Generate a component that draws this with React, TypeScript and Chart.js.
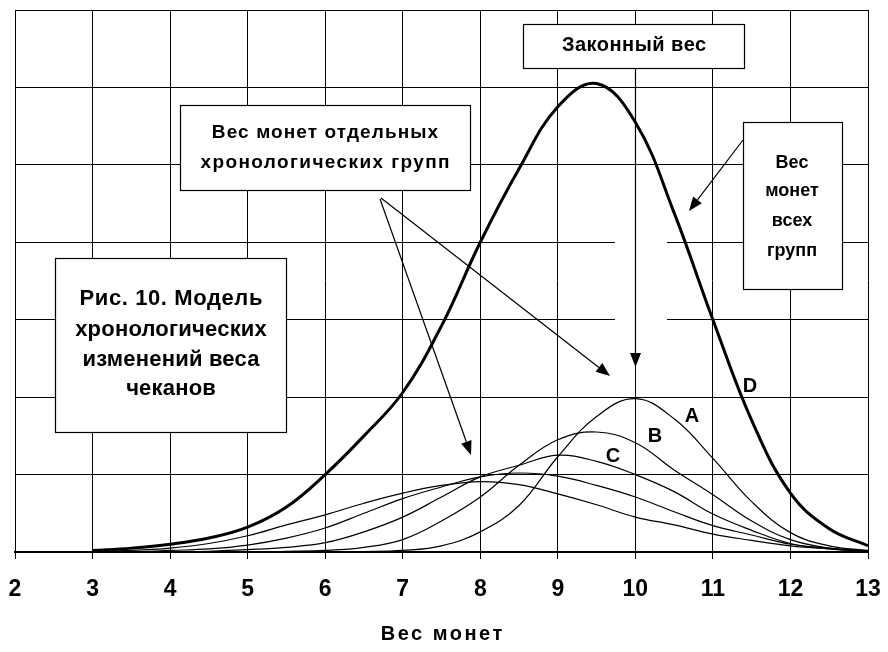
import React, { useEffect, useRef } from 'react';
import { Chart, registerables } from 'chart.js';

Chart.register(...registerables);

// Coin weight (x axis)
const weights = [3, 3.5, 4, 4.5, 5, 5.5, 6, 6.5, 7, 7.5, 8, 8.5, 9, 9.5, 10, 10.5, 11, 11.5, 12, 12.5, 13];

// Curve D: weights of coins of all groups
const seriesD = [0.02, 0.05, 0.1, 0.18, 0.32, 0.58, 1.0, 1.5, 2.06, 2.92, 4.0, 4.95, 5.75, 6.05, 5.55, 4.38, 3.0, 1.7, 0.76, 0.3, 0.08];
// Chronological groups
const seriesA = [0, 0, 0, 0, 0, 0, 0, 0.005, 0.02, 0.08, 0.26, 0.6, 1.23, 1.75, 1.98, 1.72, 1.21, 0.65, 0.25, 0.08, 0.02];
const seriesB = [0, 0, 0, 0, 0, 0.01, 0.02, 0.06, 0.16, 0.4, 0.71, 1.12, 1.45, 1.55, 1.41, 1.06, 0.74, 0.4, 0.16, 0.05, 0.01];
const seriesC = [0, 0, 0, 0.01, 0.03, 0.06, 0.12, 0.26, 0.45, 0.71, 0.97, 1.12, 1.25, 1.17, 1.0, 0.78, 0.49, 0.28, 0.11, 0.04, 0.01];
const seriesE = [0, 0, 0.02, 0.04, 0.09, 0.18, 0.31, 0.5, 0.69, 0.84, 0.97, 1.02, 0.98, 0.86, 0.71, 0.52, 0.34, 0.22, 0.1, 0.05, 0.01];
const seriesF = [0.01, 0.02, 0.05, 0.11, 0.21, 0.35, 0.48, 0.63, 0.76, 0.86, 0.91, 0.87, 0.75, 0.61, 0.45, 0.35, 0.23, 0.15, 0.08, 0.04, 0.01];

const xMin = 2;
const xMax = 13;
const yMin = 0;
const yMax = 7;
const legalWeight = 10;

const axisTitle = 'Вес монет';
const legalText = 'Законный вес';
const groupsText = ['Вес монет отдельных', 'хронологических групп'];
const allText = ['Вес', 'монет', 'всех', 'групп'];
const figText = ['Рис. 10. Модель', 'хронологических', 'изменений веса', 'чеканов'];

const FONT = '"Liberation Sans", Arial, sans-serif';

function box(ctx: CanvasRenderingContext2D, x: number, y: number, w: number, h: number) {
  ctx.save();
  ctx.fillStyle = '#fff';
  ctx.fillRect(x, y, w, h);
  ctx.strokeStyle = '#000';
  ctx.lineWidth = 1.2;
  ctx.strokeRect(x + 0.5, y + 0.5, w, h);
  ctx.restore();
}

function text(ctx: CanvasRenderingContext2D, s: string, x: number, y: number, size: number, spacing = 0) {
  ctx.save();
  ctx.fillStyle = '#000';
  ctx.font = `bold ${size}px ${FONT}`;
  (ctx as any).letterSpacing = `${spacing}px`;
  ctx.textAlign = 'center';
  ctx.textBaseline = 'alphabetic';
  ctx.fillText(s, x + spacing / 2, y);
  ctx.restore();
}

function arrow(ctx: CanvasRenderingContext2D, x1: number, y1: number, x2: number, y2: number) {
  const len = 14;
  const half = 5.5;
  const a = Math.atan2(y2 - y1, x2 - x1);
  const bx = x2 - len * Math.cos(a);
  const by = y2 - len * Math.sin(a);
  ctx.save();
  ctx.strokeStyle = '#000';
  ctx.fillStyle = '#000';
  ctx.lineWidth = 1.2;
  ctx.beginPath();
  ctx.moveTo(x1, y1);
  ctx.lineTo(bx, by);
  ctx.stroke();
  ctx.beginPath();
  ctx.moveTo(x2, y2);
  ctx.lineTo(bx + half * Math.sin(a), by - half * Math.cos(a));
  ctx.lineTo(bx - half * Math.sin(a), by + half * Math.cos(a));
  ctx.closePath();
  ctx.fill();
  ctx.restore();
}

const notesPlugin = {
  id: 'notes',
  beforeDatasetsDraw(chart: any) {
    const ctx = chart.ctx as CanvasRenderingContext2D;
    ctx.save();
    ctx.fillStyle = '#fff';
    ctx.fillRect(615, 200, 52, 140);
    ctx.restore();
  },
  afterDraw(chart: any) {
    const ctx = chart.ctx as CanvasRenderingContext2D;
    const xs = chart.scales.x;
    const lx = Math.round(xs.getPixelForValue(legalWeight)) + 0.5;

    // axis title
    text(ctx, axisTitle, (chart.chartArea.left + chart.chartArea.right) / 2, 640, 20, 2.5);

    // legal weight
    box(ctx, 523, 24, 221, 44);
    text(ctx, legalText, 634, 51, 20, 0.5);
    arrow(ctx, lx, 69, lx, 367);

    // groups
    box(ctx, 180, 105, 290, 85);
    text(ctx, groupsText[0], 325, 138, 19, 1.1);
    text(ctx, groupsText[1], 325, 168, 19, 1.4);
    arrow(ctx, 381, 198, 610, 376);
    arrow(ctx, 380, 199, 471, 455);

    // all groups
    box(ctx, 743, 122, 99, 167);
    const ay = [168, 196, 226, 256];
    allText.forEach((s, i) => text(ctx, s, 792, ay[i], 18, 0));
    arrow(ctx, 743, 140, 689, 211);

    // figure caption
    box(ctx, 55, 258, 231, 174);
    const fy = [305, 336, 366, 395];
    figText.forEach((s, i) => text(ctx, s, 171, fy[i], 22, i === 0 ? 0.6 : 0.2));

    // curve letters
    text(ctx, 'A', 692, 422, 20);
    text(ctx, 'B', 655, 442, 20);
    text(ctx, 'C', 613, 462, 20);
    text(ctx, 'D', 750, 392, 20);
  },
};

export default function App() {
  const ref = useRef<HTMLCanvasElement>(null);
  useEffect(() => {
    const pts = (ys: number[]) => weights.map((x, i) => ({ x, y: ys[i] }));
    const thin = (label: string, ys: number[]) => ({
      label,
      data: pts(ys),
      borderColor: '#000',
      borderWidth: 1.2,
      pointRadius: 0,
      fill: false,
      tension: 0.4,
    });
    const chart = new Chart(ref.current!, {
      type: 'line',
      data: {
        datasets: [
          thin('F', seriesF),
          thin('E', seriesE),
          thin('C', seriesC),
          thin('B', seriesB),
          thin('A', seriesA),
          {
            label: 'D',
            data: pts(seriesD),
            borderColor: '#000',
            borderWidth: 3,
            pointRadius: 0,
            fill: false,
            tension: 0.4,
          },
        ],
      },
      options: {
        animation: false,
        responsive: false,
        devicePixelRatio: 1,
        layout: { padding: { left: 15, top: 10, right: 20, bottom: 0 } },
        plugins: { legend: { display: false }, tooltip: { enabled: false } },
        scales: {
          x: {
            type: 'linear',
            min: xMin,
            max: xMax,
            afterFit: (s: any) => {
              s.height = 100;
              s.paddingLeft = 0;
              s.paddingRight = 0;
            },
            ticks: {
              stepSize: 1,
              color: '#000',
              padding: 17,
              maxRotation: 0,
              autoSkip: false,
              font: { family: FONT, size: 23, weight: 'bold' },
            },
            grid: { color: '#000', lineWidth: 1, tickLength: 7, drawTicks: true },
            border: { color: '#000', width: 2 },
            title: { display: false },
          },
          y: {
            min: yMin,
            max: yMax,
            afterFit: (s: any) => {
              s.width = 0;
            },
            ticks: { display: false, stepSize: 1 },
            grid: { color: '#000', lineWidth: 1, drawTicks: false },
            border: { color: '#000', width: 1 },
          },
        },
      } as any,
      plugins: [notesPlugin],
    });
    return () => chart.destroy();
  }, []);
  return (
    <div style={{ position: 'absolute', left: 0, top: 0, width: 888, height: 652, background: '#fff' }}>
      <canvas ref={ref} width={888} height={652} style={{ display: 'block' }} />
    </div>
  );
}
